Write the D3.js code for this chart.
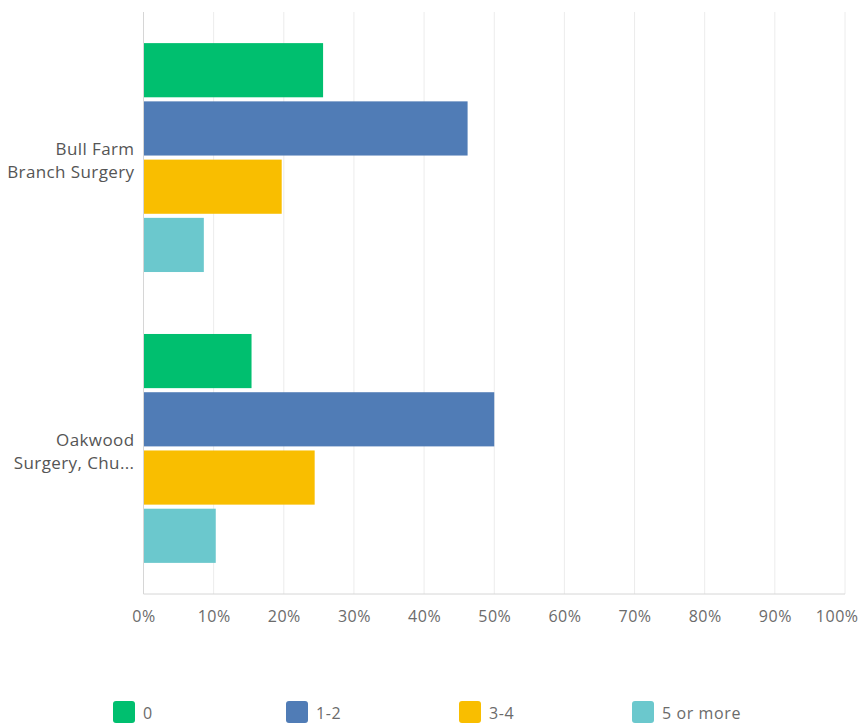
<!DOCTYPE html>
<html>
<head>
<meta charset="utf-8">
<script src="https://cdn.jsdelivr.net/npm/d3@7/dist/d3.min.js"></script>
<style>
  html, body { margin: 0; padding: 0; background: #fff; }
  svg { display: block; font-family: "Open Sans", sans-serif; }
</style>
</head>
<body>
<svg id="chart" width="860" height="726"></svg>
<script>
// Answer options (series) and the two practices (categories)
const categories = [["Bull Farm", "Branch Surgery"], ["Oakwood", "Surgery, Chu..."]];
const seriesNames = ["0", "1-2", "3-4", "5 or more"];
const seriesColors = ["#00bf6f", "#507cb6", "#f9be00", "#6bc8cd"];
// Percent of respondents per category, one array per series
const values0 = [25.6, 15.4];
const values12 = [46.2, 50.0];
const values34 = [19.7, 24.4];
const values5plus = [8.6, 10.3];
const seriesValues = [values0, values12, values34, values5plus];
const tickValues = [0, 10, 20, 30, 40, 50, 60, 70, 80, 90, 100];

const W = 860, H = 726;
const margin = { left: 143.5, right: 15, top: 12, bottom: 132 };
const svg = d3.select("#chart");

const x = d3.scaleLinear().domain([0, 100]).range([margin.left, W - margin.right]);
const y = d3.scaleBand()
  .domain(d3.range(categories.length))
  .range([margin.top, H - margin.bottom])
  .paddingInner(0.213)
  .paddingOuter(0.107);
const ySub = d3.scaleBand()
  .domain(d3.range(seriesNames.length))
  .range([0, y.bandwidth()])
  .paddingInner(0.07);

// Vertical gridlines
svg.append("g")
  .selectAll("line")
  .data(tickValues.slice(1))
  .join("line")
  .attr("x1", d => x(d)).attr("x2", d => x(d))
  .attr("y1", margin.top).attr("y2", H - margin.bottom)
  .attr("stroke", "#ececec").attr("stroke-width", 1);

// Bars
const groups = svg.append("g")
  .selectAll("g")
  .data(categories.map((c, i) => i))
  .join("g")
  .attr("transform", i => `translate(0,${y(i)})`);

groups.selectAll("rect")
  .data(i => seriesValues.map((vals, s) => ({ s, v: vals[i] })))
  .join("rect")
  .attr("x", x(0))
  .attr("y", d => ySub(d.s))
  .attr("width", d => x(d.v) - x(0))
  .attr("height", ySub.bandwidth())
  .attr("fill", d => seriesColors[d.s]);

// Axis lines (left and bottom)
svg.append("line")
  .attr("x1", x(0)).attr("x2", x(0))
  .attr("y1", margin.top).attr("y2", H - margin.bottom)
  .attr("stroke", "#d6d6d6");
svg.append("line")
  .attr("x1", x(0)).attr("x2", x(100))
  .attr("y1", H - margin.bottom).attr("y2", H - margin.bottom)
  .attr("stroke", "#d6d6d6");

// Bottom tick labels, kept inside the drawing area
const xAxis = d3.axisBottom(x).tickValues(tickValues).tickFormat(d => d + "%").tickSize(0).tickPadding(17);
const gx = svg.append("g")
  .attr("transform", `translate(0,${H - margin.bottom})`)
  .call(xAxis);
gx.select(".domain").remove();
gx.selectAll("text")
  .attr("fill", "#6b6b6b")
  .style("font-size", "16px")
  .style("letter-spacing", "0.5px")
  .style("font-family", "'Open Sans', sans-serif")
  .each(function(d) {
    const half = this.getComputedTextLength() / 2;
    const cx = x(d);
    const shift = Math.min(0, (W - 2) - (cx + half));
    d3.select(this).attr("x", shift);
  });

// Category labels (two lines, right-aligned)
const labels = svg.append("g")
  .selectAll("text")
  .data(categories.map((c, i) => ({ lines: c, i })))
  .join("text")
  .attr("text-anchor", "end")
  .attr("fill", "#555")
  .style("font-size", "17px")
  .style("letter-spacing", "0.4px")
  .attr("transform", d => `translate(${x(0) - 9},${y(d.i) + y.bandwidth() / 2})`);
labels.selectAll("tspan")
  .data(d => d.lines.map((t, k) => ({ t, k })))
  .join("tspan")
  .attr("x", 0)
  .attr("y", d => (d.k - 0.5) * 23 + 9)
  .text(d => d.t);

// Legend
const legend = svg.append("g")
  .selectAll("g")
  .data(seriesNames.map((n, i) => i))
  .join("g")
  .attr("transform", i => `translate(${113 + i * 173},701)`);
legend.append("rect")
  .attr("width", 22).attr("height", 22).attr("rx", 3)
  .attr("fill", i => seriesColors[i]);
legend.append("text")
  .attr("x", 30).attr("y", 18)
  .attr("fill", "#6b6b6b")
  .style("font-size", "16px")
  .style("letter-spacing", "0.6px")
  .text(i => seriesNames[i]);
</script>
</body>
</html>
